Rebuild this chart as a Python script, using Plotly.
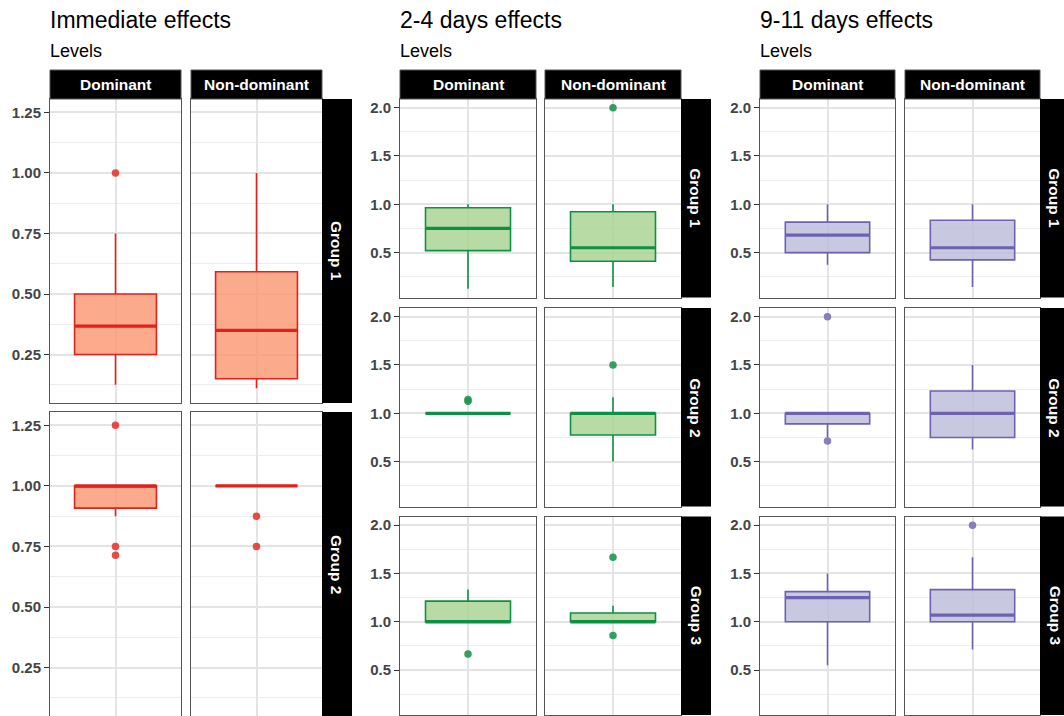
import plotly.graph_objects as go

# ---- data ---------------------------------------------------------------
periods = ["Immediate effects", "2-4 days effects", "9-11 days effects"]
sides = ["Dominant", "Non-dominant"]
group_names = ["Group 1", "Group 2", "Group 3"]

# order within each period: (G1 Dom, G1 Non, G2 Dom, G2 Non, [G3 Dom, G3 Non])
imm_lower = [0.125, 0.111, 0.875, 1.0]
imm_q1 = [0.25, 0.15, 0.908, 1.0]
imm_median = [0.367, 0.35, 1.0, 1.0]
imm_q3 = [0.50, 0.592, 1.0, 1.0]
imm_upper = [0.75, 1.0, 1.0, 1.0]
imm_outliers = [[1.0], [], [1.25, 0.75, 0.714], [0.875, 0.75]]

d24_lower = [0.125, 0.143, 1.0, 0.5, 1.0, 1.0]
d24_q1 = [0.52, 0.41, 1.0, 0.775, 1.0, 1.0]
d24_median = [0.75, 0.55, 1.0, 1.0, 1.0, 1.0]
d24_q3 = [0.964, 0.923, 1.0, 1.0, 1.214, 1.091]
d24_upper = [1.0, 1.0, 1.0, 1.167, 1.333, 1.167]
d24_outliers = [[], [2.0], [1.125, 1.143], [1.5], [0.667], [1.667, 0.857]]

d911_lower = [0.375, 0.143, 0.75, 0.625, 0.55, 0.714]
d911_q1 = [0.5, 0.425, 0.89, 0.75, 1.0, 1.0]
d911_median = [0.68, 0.55, 1.0, 1.0, 1.25, 1.07]
d911_q3 = [0.815, 0.835, 1.0, 1.23, 1.312, 1.333]
d911_upper = [1.0, 1.0, 1.0, 1.5, 1.5, 1.667]
d911_outliers = [[], [], [2.0, 0.714], [], [], [2.0]]

imm_ticks = [0.25, 0.5, 0.75, 1.0, 1.25]
imm_minor = [0.125, 0.375, 0.625, 0.875, 1.125]
day_ticks = [0.5, 1.0, 1.5, 2.0]
day_minor = [0.25, 0.75, 1.25, 1.75]

# ---- styling ------------------------------------------------------------
W, H = 1064, 716
BOX_WIDTH = 0.75
styles = [
    dict(line="#E3211C", fill="rgba(251,149,111,0.8)", point="rgba(228,45,38,0.85)"),
    dict(line="#0E8F45", fill="rgba(166,210,142,0.8)", point="rgba(30,150,80,0.9)"),
    dict(line="#6E62B0", fill="rgba(186,186,217,0.8)", point="rgba(125,112,185,0.9)"),
]

# pixel layout of each period block
blocks = [
    dict(x0=50, col_w=131, gap=10, rows=[(99, 403), (412, 716)],
         yrange=[0.05, 1.305], ticks=imm_ticks, minor=imm_minor, fmt=".2f",
         data=(imm_lower, imm_q1, imm_median, imm_q3, imm_upper, imm_outliers)),
    dict(x0=400, col_w=136, gap=9, rows=[(99, 297.5), (308, 506.5), (516.5, 715)],
         yrange=[0.035, 2.09], ticks=day_ticks, minor=day_minor, fmt=".1f",
         data=(d24_lower, d24_q1, d24_median, d24_q3, d24_upper, d24_outliers)),
    dict(x0=760, col_w=135, gap=10, rows=[(99, 297.5), (308, 506.5), (516.5, 715)],
         yrange=[0.035, 2.09], ticks=day_ticks, minor=day_minor, fmt=".1f",
         data=(d911_lower, d911_q1, d911_median, d911_q3, d911_upper, d911_outliers)),
]
STRIP_TOP = (70, 99)
STRIP_W = 30

FONT = "Liberation Sans, Arial, sans-serif"
TICK_COLOR = "#444444"
BORDER = "#555555"
GRID_MAJOR = "#E4E4E4"
GRID_MINOR = "#EEEEEE"


def px_x(v):
    return v / W


def px_y(v):
    return 1 - v / H


fig = go.Figure()
layout = {}
shapes = []
annotations = []
axis_idx = 0

for b_i, (period, blk, sty) in enumerate(zip(periods, blocks, styles)):
    lower, q1, med, q3, upper, outl = blk["data"]

    # block title and subtitle
    annotations.append(dict(text=period, x=px_x(blk["x0"] - 2), y=px_y(20), xref="paper", yref="paper",
                            xanchor="left", yanchor="middle", showarrow=False,
                            font=dict(family=FONT, size=23, color="black")))
    annotations.append(dict(text="Levels", x=px_x(blk["x0"] - 2), y=px_y(51), xref="paper", yref="paper",
                            xanchor="left", yanchor="middle", showarrow=False,
                            font=dict(family=FONT, size=18, color="black")))

    col_x = []
    for c in range(2):
        left = blk["x0"] + c * (blk["col_w"] + blk["gap"])
        col_x.append((left, left + blk["col_w"]))
        # column strip
        shapes.append(dict(type="rect", xref="paper", yref="paper",
                           x0=px_x(left), x1=px_x(left + blk["col_w"]),
                           y0=px_y(STRIP_TOP[1]), y1=px_y(STRIP_TOP[0]),
                           fillcolor="black", line=dict(color=BORDER, width=1), layer="above"))
        annotations.append(dict(text="<b>%s</b>" % sides[c], x=px_x(left + blk["col_w"] / 2),
                                y=px_y((STRIP_TOP[0] + STRIP_TOP[1]) / 2), xref="paper", yref="paper",
                                xanchor="center", yanchor="middle", showarrow=False,
                                font=dict(family=FONT, size=15.5, color="white")))

    strip_x0 = col_x[1][1]
    for r, (top, bot) in enumerate(blk["rows"]):
        # row strip
        shapes.append(dict(type="rect", xref="paper", yref="paper",
                           x0=px_x(strip_x0), x1=px_x(strip_x0 + STRIP_W),
                           y0=px_y(bot), y1=px_y(top),
                           fillcolor="black", line=dict(color="black", width=0), layer="above"))
        annotations.append(dict(text="<b>%s</b>" % group_names[r], x=px_x(strip_x0 + STRIP_W / 2),
                                y=px_y((top + bot) / 2), xref="paper", yref="paper", textangle=90,
                                xanchor="center", yanchor="middle", showarrow=False,
                                font=dict(family=FONT, size=15.5, color="white")))
        for c in range(2):
            k = r * 2 + c
            axis_idx += 1
            xa = "xaxis" if axis_idx == 1 else "xaxis%d" % axis_idx
            ya = "yaxis" if axis_idx == 1 else "yaxis%d" % axis_idx
            xr = "x" if axis_idx == 1 else "x%d" % axis_idx
            yr = "y" if axis_idx == 1 else "y%d" % axis_idx

            layout[xa] = dict(domain=[px_x(col_x[c][0]), px_x(col_x[c][1])], anchor=yr,
                              range=[-0.6, 0.6], tickvals=[0], showticklabels=False, ticks="",
                              showgrid=True, gridcolor=GRID_MAJOR, gridwidth=1.5, zeroline=False,
                              showline=True, mirror=True, linecolor=BORDER, linewidth=1,
                              fixedrange=True)
            layout[ya] = dict(domain=[px_y(bot), px_y(top)], anchor=xr, range=blk["yrange"],
                              tickvals=blk["ticks"], tickformat=blk["fmt"],
                              showticklabels=(c == 0), ticks="outside" if c == 0 else "",
                              ticklen=5, tickcolor="#333333", tickwidth=1,
                              tickfont=dict(family=FONT, size=15, color=TICK_COLOR, weight="bold"),
                              showgrid=True, gridcolor=GRID_MAJOR, gridwidth=1.5, zeroline=False,
                              minor=dict(tickvals=blk["minor"], showgrid=True,
                                         gridcolor=GRID_MINOR, gridwidth=1.2, ticks=""),
                              showline=True, mirror=True, linecolor=BORDER, linewidth=1,
                              fixedrange=True)

            fig.add_trace(go.Box(
                x=[0], q1=[q1[k]], median=[med[k]], q3=[q3[k]],
                lowerfence=[lower[k]], upperfence=[upper[k]],
                width=BOX_WIDTH, whiskerwidth=0, boxpoints=False,
                fillcolor=sty["fill"], line=dict(color=sty["line"], width=1.6),
                xaxis=xr, yaxis=yr, showlegend=False, hoverinfo="skip"))
            # heavier median bar
            fig.add_trace(go.Scatter(
                x=[-BOX_WIDTH / 2, BOX_WIDTH / 2], y=[med[k], med[k]], mode="lines",
                line=dict(color=sty["line"], width=3.2), xaxis=xr, yaxis=yr,
                showlegend=False, hoverinfo="skip"))
            if outl[k]:
                fig.add_trace(go.Scatter(
                    x=[0] * len(outl[k]), y=outl[k], mode="markers",
                    marker=dict(color=sty["point"], size=7.5, line=dict(width=0)),
                    xaxis=xr, yaxis=yr, showlegend=False, hoverinfo="skip"))

fig.update_layout(
    width=W, height=H, margin=dict(l=0, r=0, t=0, b=0),
    paper_bgcolor="white", plot_bgcolor="white",
    shapes=shapes, annotations=annotations,
    font=dict(family=FONT), **layout)

fig.write_html("out.html")
